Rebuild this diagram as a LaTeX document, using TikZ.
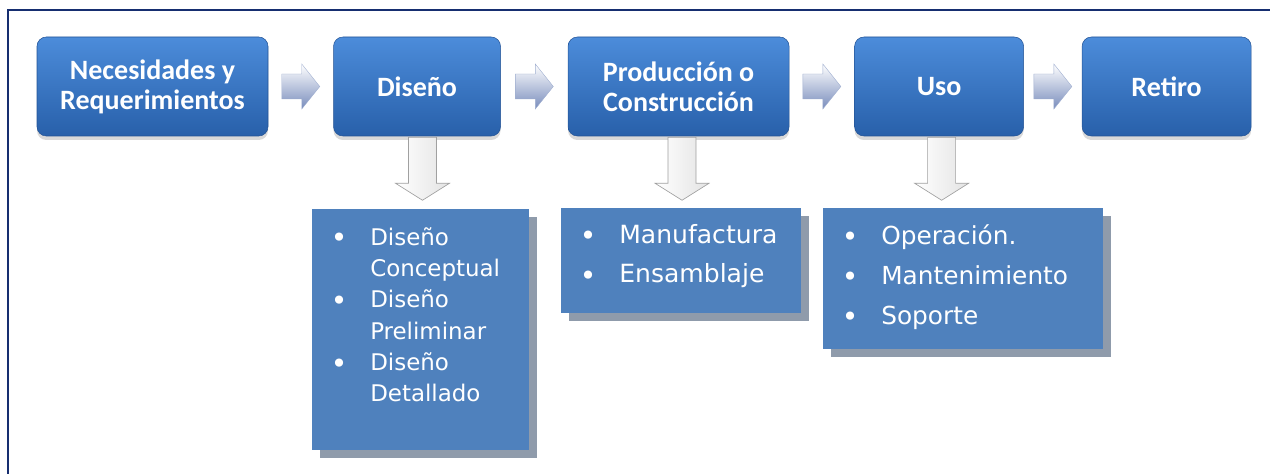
\documentclass[tikz,border=0pt]{standalone}
\usepackage{fontspec}
\setmainfont{DejaVu Sans}
\newfontfamily\titlefont{Carlito}
\usepackage{xcolor}
\usetikzlibrary{positioning, calc, shadows}
\definecolor{framenavy}{RGB}{22, 46, 112}
\definecolor{stagetop}{RGB}{76, 140, 218}
\definecolor{stagebottom}{RGB}{40, 96, 170}
\definecolor{stageedge}{RGB}{36, 84, 150}
\definecolor{listblue}{RGB}{79, 129, 189}
\definecolor{listshadow}{RGB}{143, 155, 171}
\definecolor{arrowgray}{RGB}{160, 160, 160}
\definecolor{arrowblue}{RGB}{120, 140, 188}
\newcommand{\bul}{\makebox[25.5pt][l]{\hspace{-4pt}\raisebox{-2pt}{\fontsize{21}{21}\selectfont •}}}
\newcommand{\gap}{\hspace*{25.5pt}}

\begin{document}
\begin{tikzpicture}[x=0.75pt, y=-0.75pt,
    stage/.style={rectangle, rounded corners=7pt, draw=stageedge, top color=stagetop, bottom color=stagebottom,
                  minimum height=74.25pt, align=center, text=white, inner sep=2pt,
                  font=\titlefont\bfseries\fontsize{21}{22.5}\selectfont,
                  drop shadow={opacity=0.3, shadow xshift=0pt, shadow yshift=-3pt}},
    listbox/.style={rectangle, fill=listblue, anchor=north west, inner sep=0pt,
                  drop shadow={fill=listshadow, opacity=1, shadow xshift=6pt, shadow yshift=-6pt}},
    listtext/.style={anchor=north west, align=left, text=white, inner sep=0pt},
    flowarrow/.pic={
        \shade[top color=white, bottom color=arrowblue, draw=arrowblue!70, line width=0.3pt]
            (-19,-12.5) -- (1,-12.5) -- (1,-22.5) -- (19,0) -- (1,22.5) -- (1,12.5) -- (-19,12.5) -- cycle;
    },
    downarrow/.pic={
        \shade[left color=white, right color=gray!22, draw=arrowgray, line width=0.5pt]
            (-14,0) -- (14,0) -- (14,46) -- (27,46) -- (0,63) -- (-27,46) -- (-14,46) -- cycle;
    }
]
    \useasboundingbox (0,0) rectangle (1270,474);

    % Frame
    \draw[framenavy, line width=1.5pt] (8,474) -- (8,10) -- (1270,10);

    % Stages
    \node[stage, minimum width=173.25pt] (needs) at (152.5,86.5) {Necesidades y\\Requerimientos};
    \node[stage, minimum width=125.25pt, right=48.75pt of needs] (design) {Diseño};
    \node[stage, minimum width=165.75pt, right=50.25pt of design] (build) {Producción o\\Construcción};
    \node[stage, minimum width=126.75pt, right=48.75pt of build] (use) {Uso};
    \node[stage, minimum width=126.75pt, right=43.5pt of use] (retire) {Retiro};

    % Arrows between stages
    \pic at ($(needs.east)!.5!(design.west)$) {flowarrow};
    \pic at ($(design.east)!.5!(build.west)$) {flowarrow};
    \pic at ($(build.east)!.5!(use.west)$) {flowarrow};
    \pic at ($(use.east)!.5!(retire.west)$) {flowarrow};

    % Detail boxes
    \node[listbox, minimum width=162.75pt, minimum height=180.75pt] (designlist) at (312,209) {};
    \node[listbox, minimum width=180pt, minimum height=78.75pt] (buildlist) at (561,208) {};
    \node[listbox, minimum width=210pt, minimum height=105.75pt] (uselist) at (823,208) {};

    \node[listtext, font=\fontsize{17.2}{23.5}\selectfont] (designitems) at ([xshift=18pt, yshift=-13.5pt]designlist.north west)
        {\bul Diseño\\ \gap Conceptual\\ \bul Diseño\\ \gap Preliminar\\ \bul Diseño\\ \gap Detallado};
    \node[listtext, font=\fontsize{18.8}{29.6}\selectfont] (builditems) at ([xshift=18pt, yshift=-12pt]buildlist.north west)
        {\bul Manufactura\\ \bul Ensamblaje};
    \node[listtext, font=\fontsize{18.6}{30}\selectfont] (useitems) at ([xshift=18pt, yshift=-12pt]uselist.north west)
        {\bul Operación.\\ \bul Mantenimiento\\ \bul Soporte};

    % Arrows down to details
    \pic at ([xshift=4.1pt, yshift=-0.75pt]design.south) {downarrow};
    \pic at ([xshift=2.6pt, yshift=-0.75pt]build.south) {downarrow};
    \pic at ([xshift=1.9pt, yshift=-0.75pt]use.south) {downarrow};
\end{tikzpicture}
\end{document}
